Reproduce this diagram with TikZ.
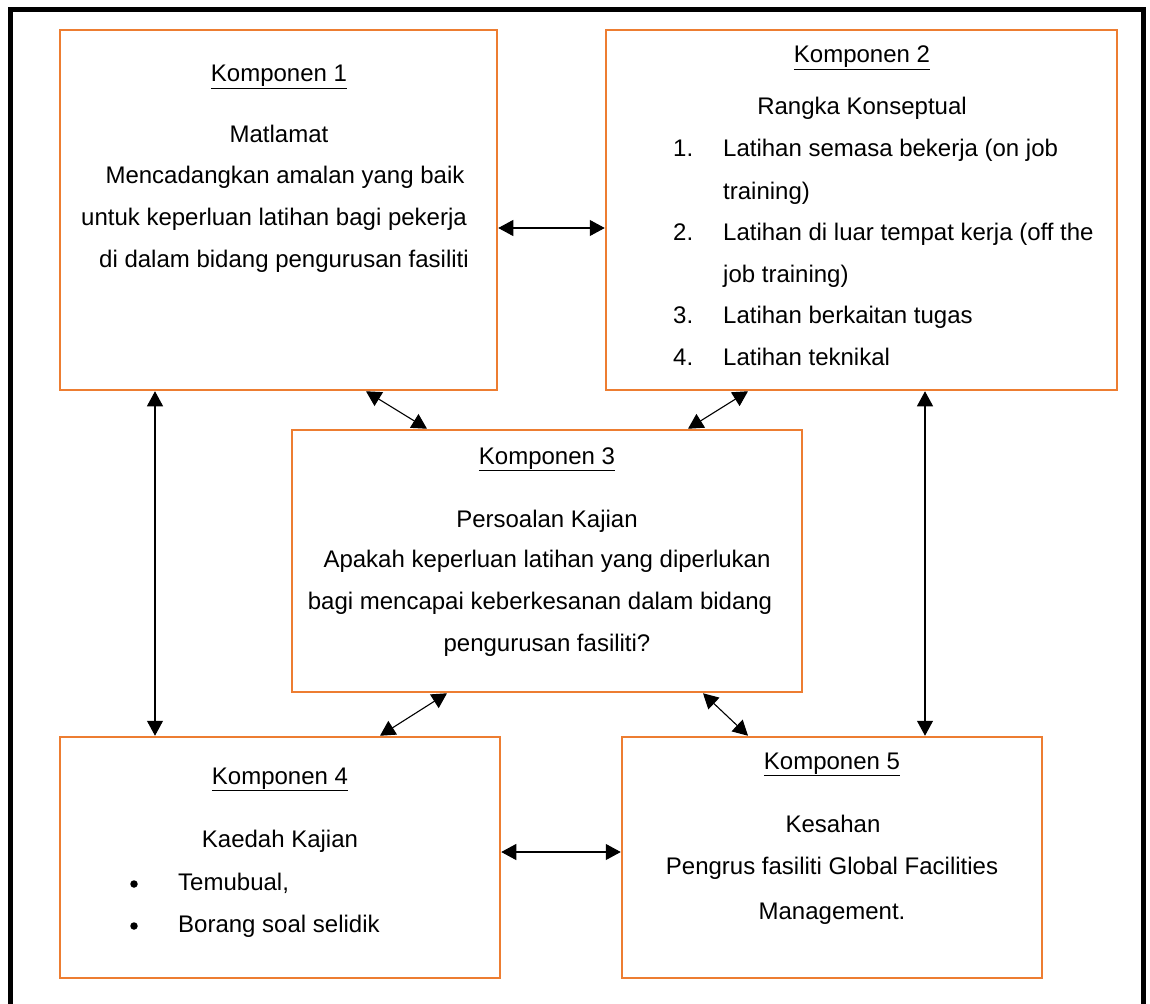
\documentclass[tikz,border=0pt]{standalone}
\usepackage{fontspec}
\setmainfont{Liberation Sans}
\usetikzlibrary{arrows.meta}
\definecolor{boxorange}{HTML}{ED7D31}
\tikzset{
  box/.style={draw=boxorange, line width=2.5pt, rectangle, inner sep=0pt},
  txt/.style={anchor=base, inner sep=0pt, font=\fontsize{24}{28}\selectfont},
  txtl/.style={anchor=base west, inner sep=0pt, font=\fontsize{24}{28}\selectfont},
  bul/.style={circle, fill=black, inner sep=0pt, minimum size=7.5pt},
  arr/.style={line width=1.1pt, {Triangle[length=15pt,width=16pt]}-{Triangle[length=15pt,width=16pt]}},
  frame/.style={line width=5pt, draw=black}
}
\begin{document}
\begin{tikzpicture}[x=1pt,y=-1pt]
\useasboundingbox (0,0) rectangle (1150,1003);
\draw[frame] (10.5,1010) -- (10.5,9.5) -- (1143,9.5) -- (1143,1010);

% boxes
\node[box, minimum width=437pt, minimum height=360pt] (b1) at (278.5,210) {};
\node[box, minimum width=511pt, minimum height=360pt] (b2) at (861.5,210) {};
\node[box, minimum width=510pt, minimum height=262pt] (b3) at (547,561) {};
\node[box, minimum width=440pt, minimum height=241pt] (b4) at (280,857.5) {};
\node[box, minimum width=420pt, minimum height=241pt] (b5) at (832,857.5) {};

% box 1 text
\node[txt] (t1a) at (279,82) {\underline{Komponen 1}};
\node[txt] (t1b) at (279,143) {Matlamat};
\node[txt] (t1c) at (285,184) {Mencadangkan amalan yang baik};
\node[txt] (t1d) at (274,225) {untuk keperluan latihan bagi pekerja};
\node[txt] (t1e) at (284,267) {di dalam bidang pengurusan fasiliti};

% box 2 text
\node[txt] (t2a) at (862,63) {\underline{Komponen 2}};
\node[txt] (t2b) at (862,115) {Rangka Konseptual};
\node[txtl] (n1) at (673,157) {1.};
\node[txtl] (l1) at (723,157) {Latihan semasa bekerja (on job};
\node[txtl] (l1b) at (723,199) {training)};
\node[txtl] (n2) at (673,240) {2.};
\node[txtl] (l2) at (723,240) {Latihan di luar tempat kerja (off the};
\node[txtl] (l2b) at (723,282) {job training)};
\node[txtl] (n3) at (673,323) {3.};
\node[txtl] (l3) at (723,323) {Latihan berkaitan tugas};
\node[txtl] (n4) at (673,365) {4.};
\node[txtl] (l4) at (723,365) {Latihan teknikal};

% box 3 text
\node[txt] (t3a) at (547,464) {\underline{Komponen 3}};
\node[txt] (t3b) at (547,527) {Persoalan Kajian};
\node[txt] (t3c) at (547,567) {Apakah keperluan latihan yang diperlukan};
\node[txt] (t3d) at (540,609) {bagi mencapai keberkesanan dalam bidang};
\node[txt] (t3e) at (547,651) {pengurusan fasiliti?};

% box 4 text
\node[txt] (t4a) at (280,784) {\underline{Komponen 4}};
\node[txt] (t4b) at (280,847) {Kaedah Kajian};
\node[bul] (bu1) at (134,884) {};
\node[txtl] (t4c) at (178,890) {Temubual,};
\node[bul] (bu2) at (134,926) {};
\node[txtl] (t4d) at (178,932) {Borang soal selidik};

% box 5 text
\node[txt] (t5a) at (832,769) {\underline{Komponen 5}};
\node[txt] (t5b) at (833,832) {Kesahan};
\node[txt] (t5c) at (832,874) {Pengrus fasiliti Global Facilities};
\node[txt] (t5d) at (832,919) {Management.};

% connectors
\draw[arr] (b1.east |- 0,228) -- (b2.west |- 0,228);
\draw[arr] (b4.east |- 0,852) -- (b5.west |- 0,852);
\draw[arr] (b1.south -| 155,0) -- (b4.north -| 155,0);
\draw[arr] (b2.south -| 925,0) -- (b5.north -| 925,0);
\draw[arr] (b1.south -| 366,0) -- (b3.north -| 427,0);
\draw[arr] (b2.south -| 748,0) -- (b3.north -| 688,0);
\draw[arr] (b3.south -| 447,0) -- (b4.north -| 380,0);
\draw[arr] (b3.south -| 703,0) -- (b5.north -| 748,0);
\end{tikzpicture}
\end{document}
